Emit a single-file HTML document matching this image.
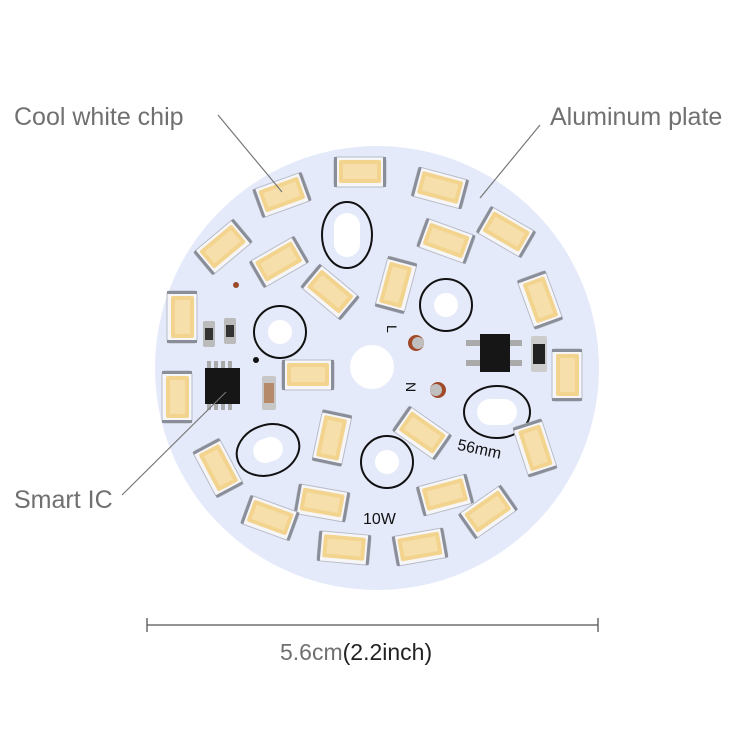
<!DOCTYPE html>
<html><head><style>
html,body{margin:0;padding:0;background:#fff;}
svg{display:block;}
text{font-family:"Liberation Sans",sans-serif;}
</style></head><body>
<svg width="750" height="750" viewBox="0 0 750 750" xmlns="http://www.w3.org/2000/svg">
<defs>
<g id="led">
<rect x="-26" y="-15" width="52" height="30" rx="3" fill="#f6f6f8" stroke="#b8bcc8" stroke-width="1"/>
<rect x="-26" y="-15" width="3" height="30" fill="#8a8e98"/>
<rect x="23" y="-15" width="3" height="30" fill="#8a8e98"/>
<rect x="-21" y="-12" width="42" height="23" rx="2" fill="#f3d48e"/>
<rect x="-17" y="-8" width="34" height="15" fill="#f6dfaa"/>
</g>
</defs>
<circle cx="377" cy="368" r="222" fill="#e5eafa"/>
<g fill="none" stroke="#111" stroke-width="2">
<ellipse cx="347" cy="235" rx="25" ry="33"/>
<circle cx="280" cy="332" r="26"/>
<circle cx="446" cy="305" r="26"/>
<ellipse cx="497" cy="412" rx="33" ry="26"/>
<ellipse cx="268" cy="450" rx="32" ry="25" transform="rotate(-20 268 450)"/>
<circle cx="387" cy="462" r="26"/>
</g>
<g fill="#fff">
<rect x="334" y="213" width="26" height="44" rx="13"/>
<circle cx="280" cy="332" r="12"/>
<circle cx="446" cy="305" r="12"/>
<circle cx="372" cy="367" r="22"/>
<rect x="477" y="399" width="40" height="26" rx="13"/>
<rect x="253" y="438" width="30" height="24" rx="12" transform="rotate(-20 268 450)"/>
<circle cx="387" cy="462" r="12"/>
</g>
<use href="#led" transform="translate(282,195) rotate(-20)"/>
<use href="#led" transform="translate(360,172)"/>
<use href="#led" transform="translate(440,188) rotate(15)"/>
<use href="#led" transform="translate(506,232) rotate(30)"/>
<use href="#led" transform="translate(223,247) rotate(-40)"/>
<use href="#led" transform="translate(279,262) rotate(-30)"/>
<use href="#led" transform="translate(446,241) rotate(20)"/>
<use href="#led" transform="translate(330,292) rotate(40)"/>
<use href="#led" transform="translate(396,285) rotate(-75)"/>
<use href="#led" transform="translate(540,300) rotate(70)"/>
<use href="#led" transform="translate(182,317) rotate(90)"/>
<use href="#led" transform="translate(308,375)"/>
<use href="#led" transform="translate(567,375) rotate(90)"/>
<use href="#led" transform="translate(177,397) rotate(90)"/>
<use href="#led" transform="translate(422,433) rotate(35)"/>
<use href="#led" transform="translate(332,438) rotate(-78)"/>
<use href="#led" transform="translate(535,448) rotate(72)"/>
<use href="#led" transform="translate(218,468) rotate(62)"/>
<use href="#led" transform="translate(322,503) rotate(10)"/>
<use href="#led" transform="translate(445,495) rotate(-15)"/>
<use href="#led" transform="translate(488,512) rotate(-35)"/>
<use href="#led" transform="translate(270,518) rotate(20)"/>
<use href="#led" transform="translate(344,548) rotate(5)"/>
<use href="#led" transform="translate(420,547) rotate(-10)"/>
<g fill="#aaa"><rect x="207" y="361" width="4" height="10"/><rect x="214" y="361" width="4" height="10"/><rect x="221" y="361" width="4" height="10"/><rect x="228" y="361" width="4" height="10"/>
<rect x="207" y="400" width="4" height="10"/><rect x="214" y="400" width="4" height="10"/><rect x="221" y="400" width="4" height="10"/><rect x="228" y="400" width="4" height="10"/></g>
<rect x="205" y="368" width="35" height="36" fill="#161616"/>
<rect x="262" y="376" width="14" height="34" rx="2" fill="#c7c7c7"/><rect x="264" y="383" width="10" height="20" fill="#b48a6a"/>
<rect x="203" y="321" width="12" height="26" rx="2" fill="#bbb"/><rect x="205" y="328" width="8" height="12" fill="#333"/>
<rect x="224" y="318" width="12" height="26" rx="2" fill="#bbb"/><rect x="226" y="325" width="8" height="12" fill="#333"/>
<circle cx="236" cy="285" r="3" fill="#9b4a2a"/><circle cx="256" cy="360" r="3" fill="#111"/>
<g fill="#aaa"><rect x="466" y="340" width="14" height="6"/><rect x="466" y="360" width="14" height="6"/><rect x="508" y="340" width="14" height="6"/><rect x="508" y="360" width="14" height="6"/></g>
<rect x="480" y="334" width="30" height="38" fill="#161616"/>
<rect x="531" y="336" width="16" height="36" rx="2" fill="#ccc"/><rect x="533" y="344" width="12" height="20" fill="#222"/>
<circle cx="416" cy="343" r="8" fill="#a04a2a"/><circle cx="418" cy="343" r="6" fill="#bfbfbf"/>
<circle cx="438" cy="390" r="8" fill="#a04a2a"/><circle cx="436" cy="390" r="6" fill="#bfbfbf"/>
<text x="385" y="333" font-size="14" fill="#111" transform="rotate(90 390 330)">L</text>
<text x="405" y="393" font-size="14" fill="#111" transform="rotate(90 411 388)">N</text>
<text x="456" y="455" font-size="16" font-family="Liberation Mono" fill="#111" transform="rotate(12 482 455)">56mm</text>
<text x="363" y="524" font-size="16" font-family="Liberation Mono" fill="#111">10W</text>
<g stroke="#777" stroke-width="1.2">
<line x1="218" y1="115" x2="282" y2="192"/>
<line x1="540" y1="125" x2="480" y2="198"/>
<line x1="122" y1="495" x2="226" y2="392"/>
</g>
<g font-size="25" fill="#707070">
<text x="14" y="125">Cool white chip</text>
<text x="550" y="125">Aluminum plate</text>
<text x="14" y="508">Smart IC</text>
</g>
<g stroke="#555" stroke-width="1.3">
<line x1="147" y1="625" x2="598" y2="625"/>
<line x1="147" y1="618" x2="147" y2="632"/>
<line x1="598" y1="618" x2="598" y2="632"/>
</g>
<text x="280" y="660" font-size="23" fill="#707070">5.6cm<tspan fill="#222">(2.2inch)</tspan></text>
</svg>
</body></html>
